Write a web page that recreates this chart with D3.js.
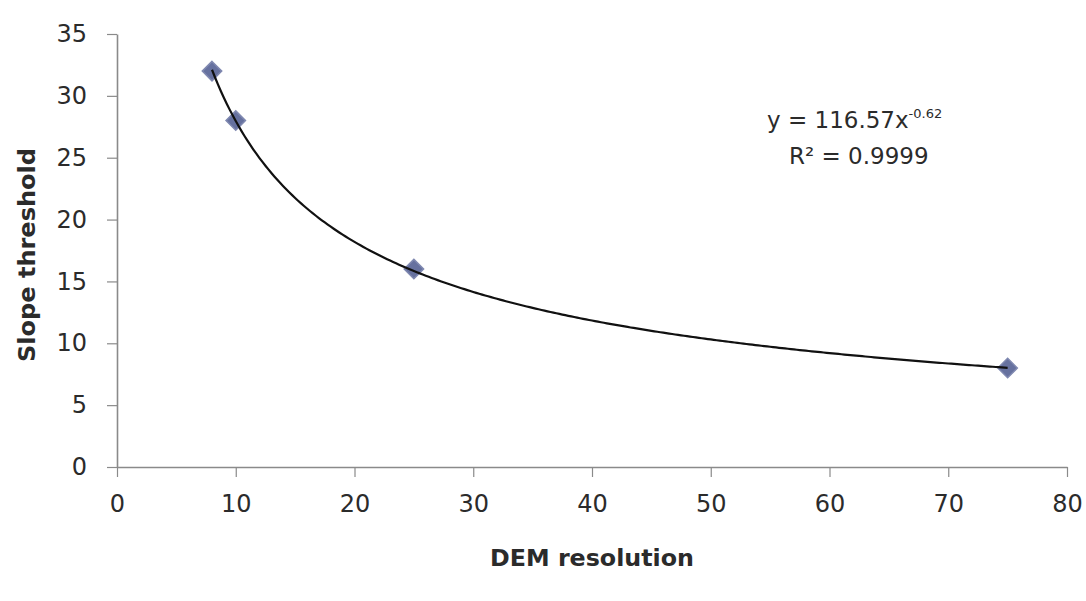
<!DOCTYPE html>
<html>
<head>
<meta charset="utf-8">
<script src="https://cdn.jsdelivr.net/npm/d3@7"></script>
<style>
  body { margin: 0; background: #fff; }
  text { font-family: "DejaVu Sans", sans-serif; fill: #2b2b2b; }
</style>
</head>
<body>
<svg id="chart" viewBox="0 0 1086 601" width="1086" height="601"></svg>
<script>
const resolution = [8, 10, 25, 75];
const threshold = [32, 28, 16, 8];
const xTicks = [0, 10, 20, 30, 40, 50, 60, 70, 80];
const yTicks = [0, 5, 10, 15, 20, 25, 30, 35];
// power trendline as printed on the chart
const fitA = 116.57;
const fitB = -0.62;

const svg = d3.select("#chart");

const x = d3.scaleLinear().domain([0, 80]).range([117, 1067]);
const y = d3.scaleLinear().domain([0, 35]).range([467, 34]);

const axisColor = "#8a8a8a";

const xAxis = svg.append("g")
    .attr("transform", `translate(0, ${y(0)})`)
    .call(d3.axisBottom(x).tickValues(xTicks).tickSize(10).tickSizeOuter(0).tickPadding(18));
xAxis.select(".domain").attr("stroke", axisColor).attr("stroke-width", 1.6);
xAxis.selectAll(".tick line").attr("stroke", axisColor).attr("stroke-width", 1.2);
xAxis.selectAll(".tick text").style("font-size", "24px").attr("fill", "#2b2b2b");

const yAxis = svg.append("g")
    .attr("transform", `translate(${x(0)}, 0)`)
    .call(d3.axisLeft(y).tickValues(yTicks).tickSize(10).tickSizeOuter(0).tickPadding(20));
yAxis.select(".domain").attr("stroke", axisColor).attr("stroke-width", 1.6);
yAxis.selectAll(".tick line").attr("stroke", axisColor).attr("stroke-width", 1.2);
yAxis.selectAll(".tick text").style("font-size", "24px").attr("fill", "#2b2b2b");

// trendline sampled from the fitted equation between the first and last points
const xs = d3.range(resolution[0], resolution[resolution.length - 1] + 0.01, 0.25);
const line = d3.line()
    .x(d => x(d))
    .y(d => y(fitA * Math.pow(d, fitB)));

const pts = resolution.map((r, i) => ({ r: r, t: threshold[i] }));

svg.append("g")
    .selectAll("path")
    .data(pts)
    .enter()
    .append("path")
    .attr("d", d3.symbol().type(d3.symbolDiamond2).size(240))
    .attr("transform", d => `translate(${x(d.r)}, ${y(d.t)})`)
    .attr("fill", "#66719f")
    .attr("stroke", "#7f88b0")
    .attr("stroke-width", 1.5);

svg.append("path")
    .datum(xs)
    .attr("d", line)
    .attr("fill", "none")
    .attr("stroke", "#111")
    .attr("stroke-width", 2.2);

// equation label
const eq = svg.append("text")
    .attr("x", 767)
    .attr("y", 128)
    .style("font-size", "23px");
eq.append("tspan").text("y = 116.57x");
eq.append("tspan").attr("dy", -10).style("font-size", "13px").text("-0.62");

svg.append("text")
    .attr("x", 789)
    .attr("y", 164)
    .style("font-size", "23px")
    .text("R² = 0.9999");

svg.append("text")
    .attr("x", 592)
    .attr("y", 566)
    .attr("text-anchor", "middle")
    .attr("textLength", 204)
    .attr("lengthAdjust", "spacingAndGlyphs")
    .style("font-size", "23px")
    .style("font-weight", "bold")
    .text("DEM resolution");

svg.append("text")
    .attr("transform", "translate(35, 255) rotate(-90)")
    .attr("text-anchor", "middle")
    .attr("textLength", 214)
    .attr("lengthAdjust", "spacingAndGlyphs")
    .style("font-size", "23px")
    .style("font-weight", "bold")
    .text("Slope threshold");
</script>
</body>
</html>
